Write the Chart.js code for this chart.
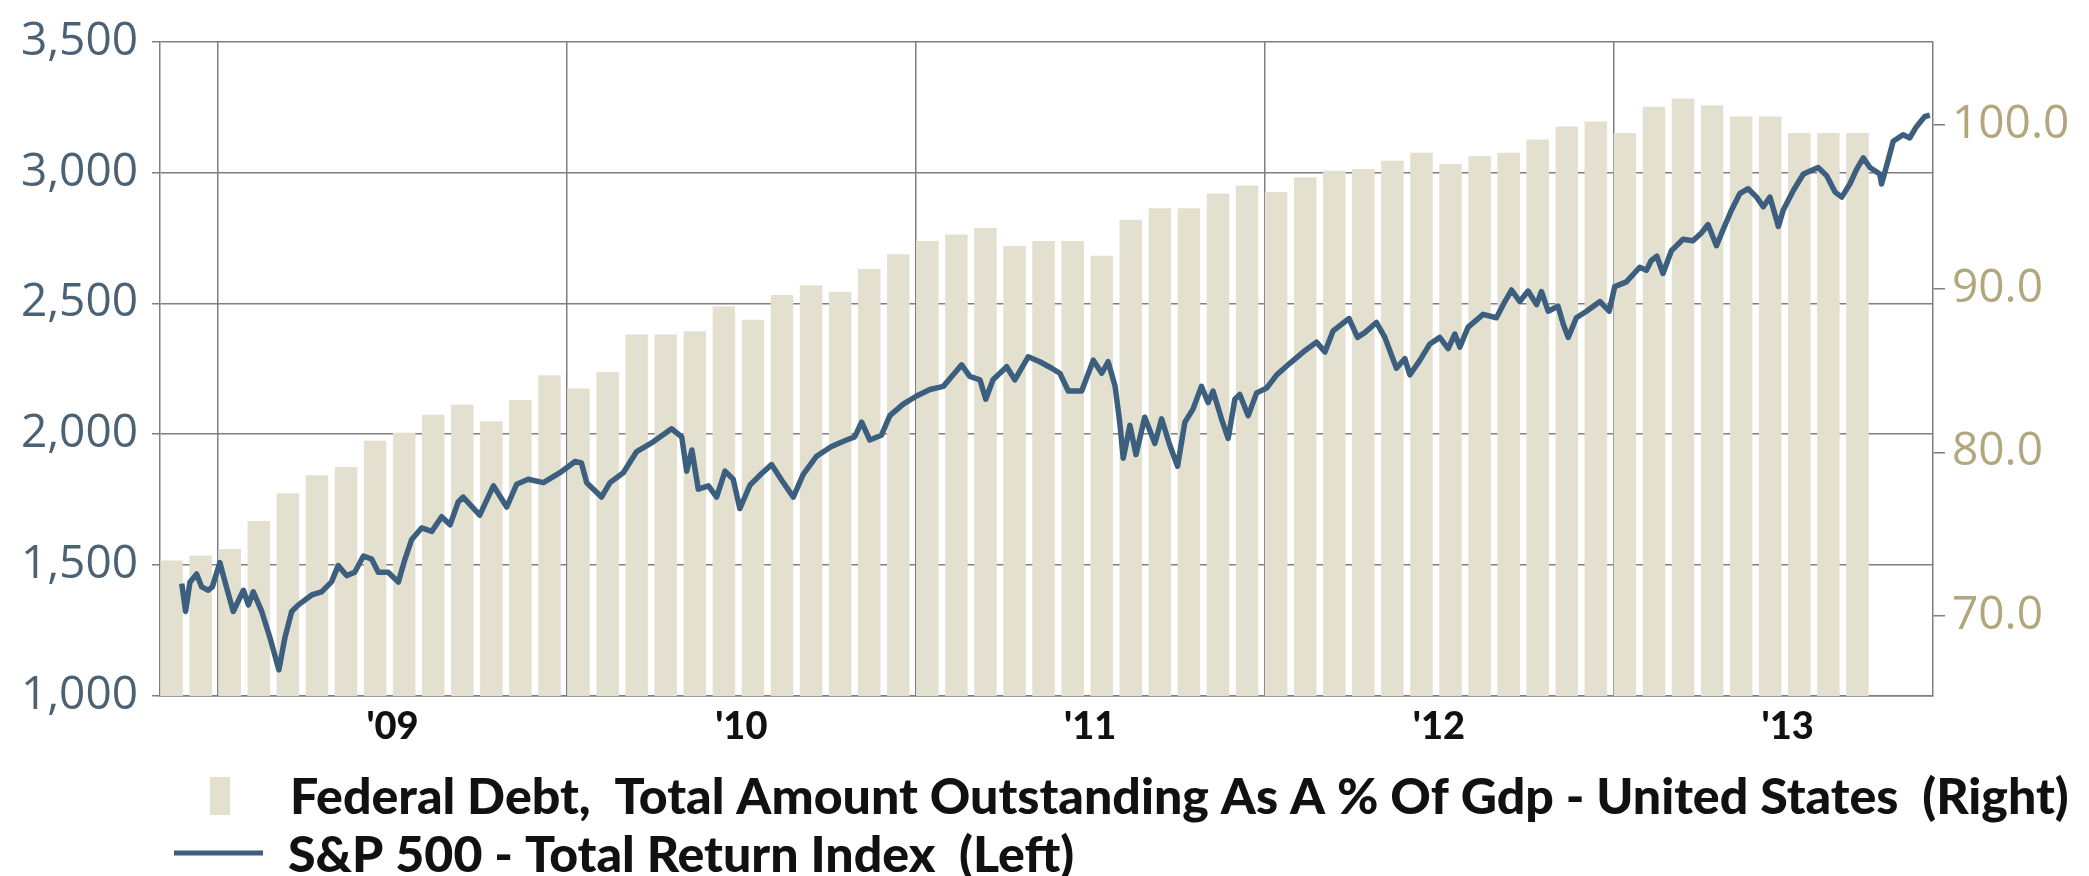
<!DOCTYPE html>
<html>
<head>
<meta charset="utf-8">
<script src="https://cdn.jsdelivr.net/npm/chart.js@4.4.1/dist/chart.umd.min.js"></script>
<style>
html,body{margin:0;padding:0;background:#ffffff;overflow:hidden}
#wrap{width:2089px;height:876px;position:relative}
canvas{display:block}
</style>
</head>
<body>
<div id="wrap"><canvas id="c" width="2089" height="876"></canvas></div>
<script>
// ---------------- DATA ----------------
// Time axis unit: months since 1 Nov 2008
const yearTickLabels = ["'09", "'10", "'11", "'12", "'13"];
const yearStartMonths = [2, 14, 26, 38, 50];     // Jan of each year
const yearMidMonths = [8, 20, 32, 44, 56];       // Jul of each year (label position)
const leftTickValues = [1000, 1500, 2000, 2500, 3000, 3500];
const rightTickValues = [70, 80, 90, 100];

// Federal Debt, Total Amount Outstanding As A % Of GDP (monthly, Nov 2008 - Sep 2013)
const debtPct = [
  73.4, 73.7, 74.1, 75.8, 77.5, 78.6, 79.1, 80.7, 81.2, 82.3,
  82.9, 81.9, 83.2, 84.7, 83.9, 84.9, 87.2, 87.2, 87.4, 88.9,
  88.1, 89.6, 90.2, 89.8, 91.2, 92.1, 92.9, 93.3, 93.7, 92.6,
  92.9, 92.9, 92.0, 94.2, 94.9, 94.9, 95.8, 96.3, 95.9, 96.8,
  97.2, 97.3, 97.8, 98.3, 97.6, 98.1, 98.3, 99.1, 99.9, 100.2,
  99.5, 101.1, 101.6, 101.2, 100.5, 100.5, 99.5, 99.5, 99.5
];

// S&P 500 - Total Return Index
const sp500Month = [
  0.75,0.88,1.03,1.26,1.43,1.66,1.80,2.06,2.24,2.52,2.87,3.04,3.21,3.50,3.78,4.09,4.30,4.53,4.76,5.22,
  5.56,5.90,6.13,6.42,6.70,7.00,7.28,7.51,7.85,8.20,8.43,8.66,9.00,9.35,9.69,9.98,10.26,10.43,11.00,11.47,
  11.93,12.27,12.67,13.19,13.76,14.28,14.50,14.68,15.19,15.48,15.94,16.40,16.97,17.60,17.95,18.12,18.30,18.52,18.87,19.15,
  19.44,19.72,19.95,20.30,20.70,21.04,21.44,21.79,22.13,22.59,23.10,23.62,23.90,24.14,24.42,24.82,25.11,25.57,26.03,26.49,
  26.95,27.29,27.58,27.86,28.21,28.41,28.66,29.13,29.41,29.87,30.27,30.68,30.96,31.25,31.71,32.11,32.40,32.62,32.86,33.02,
  33.14,33.37,33.58,33.88,34.23,34.46,34.74,35.01,35.26,35.54,35.83,36.06,36.23,36.52,36.75,36.98,37.15,37.44,37.73,38.08,
  38.42,38.87,39.33,39.79,40.08,40.36,40.91,41.20,41.46,41.85,42.14,42.54,42.83,43.00,43.35,43.69,44.03,44.32,44.55,44.72,
  45.00,45.52,45.98,46.27,46.50,46.78,47.07,47.36,47.53,47.76,48.10,48.28,48.45,48.73,49.08,49.54,49.86,50.05,50.45,50.91,
  51.14,51.30,51.50,51.71,52.00,52.40,52.74,53.03,53.26,53.55,53.78,54.07,54.35,54.64,54.93,55.16,55.39,55.68,55.85,56.20,
  56.54,57.05,57.34,57.63,57.86,58.14,58.37,58.60,58.83,59.17,59.23,59.45,59.63,59.97,60.20,60.43,60.71,60.89
];
const sp500Value = [
  1429,1323,1435,1466,1417,1404,1417,1510,1435,1323,1404,1348,1398,1323,1224,1100,1224,1323,1348,1386,
  1398,1436,1498,1460,1473,1535,1523,1473,1473,1435,1523,1598,1642,1629,1685,1654,1741,1760,1691,1803,
  1722,1809,1828,1815,1853,1896,1890,1815,1760,1815,1853,1934,1971,2021,1990,1859,1940,1790,1803,1760,
  1859,1828,1716,1806,1850,1884,1816,1760,1847,1916,1953,1978,1990,2046,1978,1996,2071,2115,2146,2171,
  2183,2227,2265,2221,2208,2134,2208,2258,2208,2296,2277,2252,2233,2165,2165,2283,2233,2277,2183,2046,
  1908,2034,1922,2065,1965,2059,1959,1878,2046,2096,2183,2121,2165,2059,1984,2134,2152,2071,2158,2177,
  2227,2271,2314,2352,2314,2395,2442,2370,2389,2427,2370,2252,2289,2227,2283,2345,2370,2327,2383,2333,
  2408,2458,2445,2507,2551,2507,2547,2495,2545,2470,2489,2420,2370,2445,2470,2507,2470,2564,2582,2638,
  2626,2663,2680,2614,2701,2745,2739,2769,2801,2720,2782,2857,2919,2938,2906,2869,2906,2794,2857,2932,
  2994,3019,2988,2925,2906,2956,3012,3056,3019,2994,2956,3044,3119,3144,3132,3175,3213,3219
];

const debtLabel = 'Federal Debt,  Total Amount Outstanding As A % Of Gdp - United States  (Right)';
const spLabel = 'S&P 500 - Total Return Index  (Left)';

// ---------------- STYLE ----------------
const GRID = '#7f7f7f';
const BAR = '#e3e0cf';
const LINE = '#3c5f7f';
const LEFT_TXT = '#4b6174';
const RIGHT_TXT = '#b1a67c';

const legendPlugin = {
  id: 'manualLegend',
  afterDraw(chart) {
    const ctx = chart.ctx;
    ctx.save();
    const fam = 'Lato, "Open Sans", sans-serif';
    ctx.font = '900 45px ' + fam;
    const w = ctx.measureText(debtLabel).width;
    const size = 45 * 1779 / w;
    ctx.font = '900 ' + size.toFixed(2) + 'px ' + fam;
    ctx.textBaseline = 'alphabetic';
    ctx.textAlign = 'left';
    // row 1: bar swatch + label
    ctx.fillStyle = BAR;
    ctx.fillRect(210, 777, 20, 38);
    ctx.fillStyle = '#111111';
    ctx.fillText(debtLabel, 290, 814);
    // row 2: line swatch + label
    ctx.strokeStyle = LINE;
    ctx.lineWidth = 5;
    ctx.beginPath();
    ctx.moveTo(174, 853);
    ctx.lineTo(263, 853);
    ctx.stroke();
    ctx.fillText(spLabel, 288, 872);
    ctx.restore();
  }
};

const ctx = document.getElementById('c').getContext('2d');
new Chart(ctx, {
  type: 'bar',
  data: {
    datasets: [
      {
        type: 'line',
        label: spLabel,
        data: sp500Month.map((m, i) => ({ x: m, y: sp500Value[i] })),
        xAxisID: 'x',
        yAxisID: 'y',
        borderColor: LINE,
        borderWidth: 5.5,
        borderJoinStyle: 'round',
        pointRadius: 0,
        tension: 0,
        fill: false,
        order: 0
      },
      {
        type: 'bar',
        label: debtLabel,
        data: debtPct.map((v, i) => ({ x: i + 0.4, y: v })),
        xAxisID: 'x',
        yAxisID: 'yR',
        backgroundColor: BAR,
        borderWidth: 0,
        categoryPercentage: 1,
        barPercentage: 0.775,
        order: 1
      }
    ]
  },
  options: {
    responsive: false,
    animation: false,
    events: [],
    layout: { padding: { top: 33, left: 0, right: 0, bottom: 0 } },
    plugins: { legend: { display: false }, tooltip: { enabled: false } },
    scales: {
      x: {
        type: 'linear',
        position: 'bottom',
        min: 0,
        max: 61,
        offset: false,
        afterFit: s => { s.height = 180; },
        afterBuildTicks: s => {
          s.ticks = yearStartMonths.concat(yearMidMonths).sort((a, b) => a - b).map(v => ({ value: v }));
        },
        grid: {
          offset: false,
          drawTicks: false,
          lineWidth: 1.5,
          color: c => (c.tick && yearStartMonths.includes(c.tick.value)) ? GRID : 'rgba(0,0,0,0)'
        },
        border: { display: true, color: GRID, width: 1.5 },
        ticks: {
          autoSkip: false,
          maxRotation: 0,
          padding: 8,
          color: '#111111',
          font: { family: 'Lato', weight: '900', size: 38 },
          callback: v => { const i = yearMidMonths.indexOf(v); return i >= 0 ? yearTickLabels[i] : ''; }
        }
      },
      y: {
        position: 'left',
        min: 1000,
        max: 3500,
        afterFit: s => { s.width = 160; },
        afterBuildTicks: s => { s.ticks = leftTickValues.map(v => ({ value: v })); },
        grid: { color: GRID, lineWidth: 1.5, tickLength: 8 },
        border: { display: true, color: GRID, width: 1.5 },
        ticks: {
          padding: 14,
          color: LEFT_TXT,
          font: { family: '"Open Sans"', size: 46 },
          callback: v => v.toLocaleString('en-US')
        }
      },
      yR: {
        position: 'right',
        min: 65.12,
        max: 105.08,
        afterFit: s => { s.width = 156; },
        afterBuildTicks: s => { s.ticks = rightTickValues.map(v => ({ value: v })); },
        grid: { drawOnChartArea: false, color: GRID, lineWidth: 1.5, tickLength: 12 },
        border: { display: true, color: GRID, width: 1.5 },
        ticks: {
          padding: 7,
          color: RIGHT_TXT,
          font: { family: '"Open Sans"', size: 46 },
          callback: v => v.toFixed(1)
        }
      }
    }
  },
  plugins: [legendPlugin]
});
</script>
</body>
</html>
